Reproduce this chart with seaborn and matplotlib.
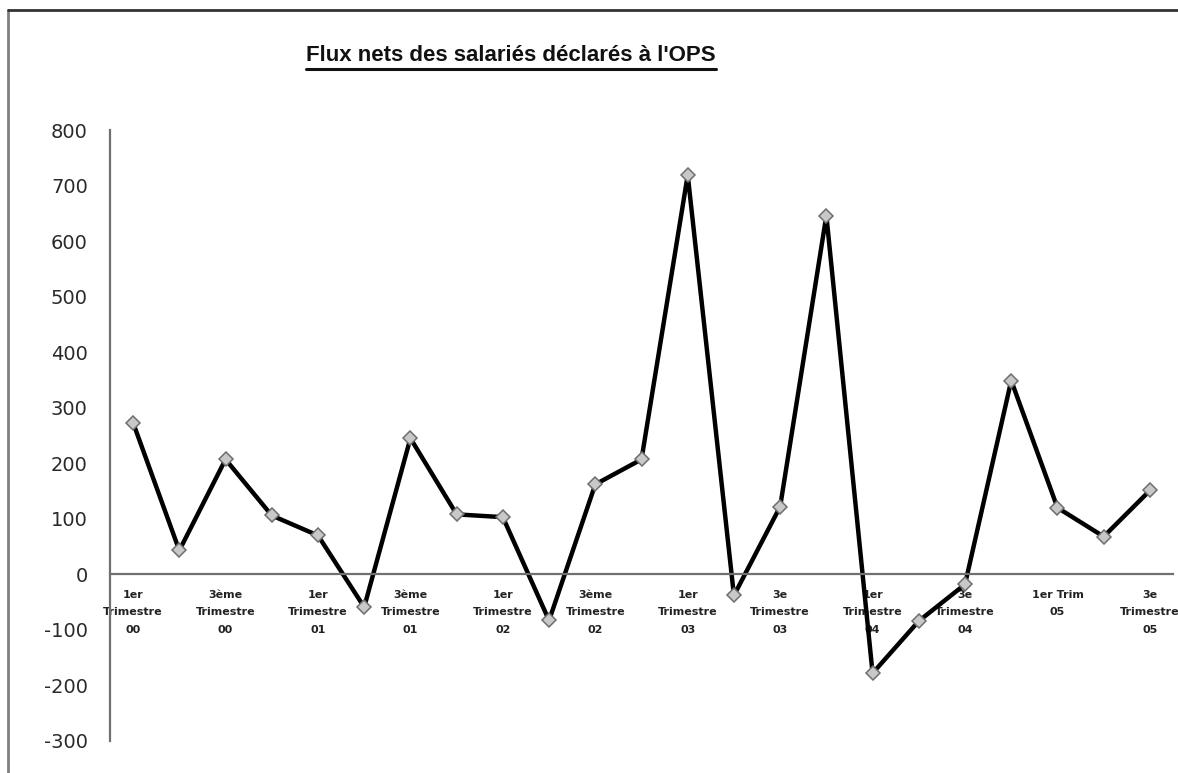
import matplotlib
matplotlib.use("Agg")
import matplotlib.pyplot as plt
import seaborn as sns
import pandas as pd
import numpy as np
from matplotlib.lines import Line2D
from matplotlib.ticker import MultipleLocator, FixedLocator

# ---- data ----
quarters = ["T1 00", "T2 00", "T3 00", "T4 00",
            "T1 01", "T2 01", "T3 01", "T4 01",
            "T1 02", "T2 02", "T3 02", "T4 02",
            "T1 03", "T2 03", "T3 03", "T4 03",
            "T1 04", "T2 04", "T3 04", "T4 04",
            "T1 05", "T2 05", "T3 05"]
values = [273, 43, 207, 106, 70, -59, 245, 108, 103, -83, 162, 207,
          719, -38, 122, 646, -178, -84, -18, 349, 120, 68, 151]
tick_labels = ["1er\nTrimestre\n00", "", "3ème\nTrimestre\n00", "",
               "1er\nTrimestre\n01", "", "3ème\nTrimestre\n01", "",
               "1er\nTrimestre\n02", "", "3ème\nTrimestre\n02", "",
               "1er\nTrimestre\n03", "", "3e\nTrimestre\n03", "",
               "1er\nTrimestre\n04", "", "3e\nTrimestre\n04", "",
               "1er Trim\n05", "", "3e\nTrimestre\n05"]
title = "Flux nets des salariés déclarés à l'OPS"

df = pd.DataFrame({"quarter": quarters, "value": values})

sns.set_style("white")
plt.rcParams["font.family"] = ["Liberation Sans", "DejaVu Sans"]
plt.rcParams["axes.unicode_minus"] = False

W, H = 1178, 773
fig = plt.figure(figsize=(W / 100, H / 100), dpi=100)
ax = fig.add_axes([110 / W, 1 - 741 / H, 1063 / W, 611 / H])

sns.lineplot(data=df, x="quarter", y="value", ax=ax, color="black",
             linewidth=3.2, marker="D", markersize=7,
             markerfacecolor="#c8c8c8", markeredgecolor="#6e6e6e",
             markeredgewidth=1.1, sort=False)

n = len(quarters)
ax.set_xlim(-0.5, n - 0.5)
ax.set_ylim(-300, 800)
ax.yaxis.set_major_locator(MultipleLocator(100))
ax.set_xlabel("")
ax.set_ylabel("")

for s in ["top", "right"]:
    ax.spines[s].set_visible(False)
ax.spines["bottom"].set_position(("data", 0))
ax.spines["bottom"].set_color("#707070")
ax.spines["bottom"].set_linewidth(1.6)
ax.spines["left"].set_color("#707070")
ax.spines["left"].set_linewidth(1.6)

ax.set_xticks(range(n))
ax.set_xticklabels(tick_labels, fontsize=8, fontweight="bold",
                   linespacing=1.95, color="#222222",
                   family=["DejaVu Sans"])
ax.xaxis.set_minor_locator(FixedLocator(np.arange(-0.5, n, 1.0)))
ax.tick_params(axis="x", which="major", length=0, pad=11)
ax.tick_params(axis="x", which="minor", length=4, width=1.2,
               color="#707070", direction="out")
ax.tick_params(axis="y", which="major", length=6, width=1.6,
               color="#707070", direction="out", pad=10,
               labelsize=14, labelcolor="#2a2a2a")
for lab in ax.get_yticklabels():
    lab.set_family(["DejaVu Sans"])

# figure frame (left and top)
fig.add_artist(Line2D([8 / W, 8 / W], [0, 1 - 10 / H],
                      transform=fig.transFigure, color="#808080", lw=2))
fig.add_artist(Line2D([8 / W, 1], [1 - 10 / H, 1 - 10 / H],
                      transform=fig.transFigure, color="#333333", lw=2))

# title with underline
t = fig.text(511 / W, 1 - 61 / H, title, ha="center", va="baseline",
             fontsize=16, fontweight="bold", color="#111111")
fig.canvas.draw()
bb = t.get_window_extent(renderer=fig.canvas.get_renderer())
uy = 1 - 69 / H
fig.add_artist(Line2D([bb.x0 / W, bb.x1 / W], [uy, uy],
                      transform=fig.transFigure, color="#111111", lw=2.2))

fig.savefig("out.png", dpi=100)
